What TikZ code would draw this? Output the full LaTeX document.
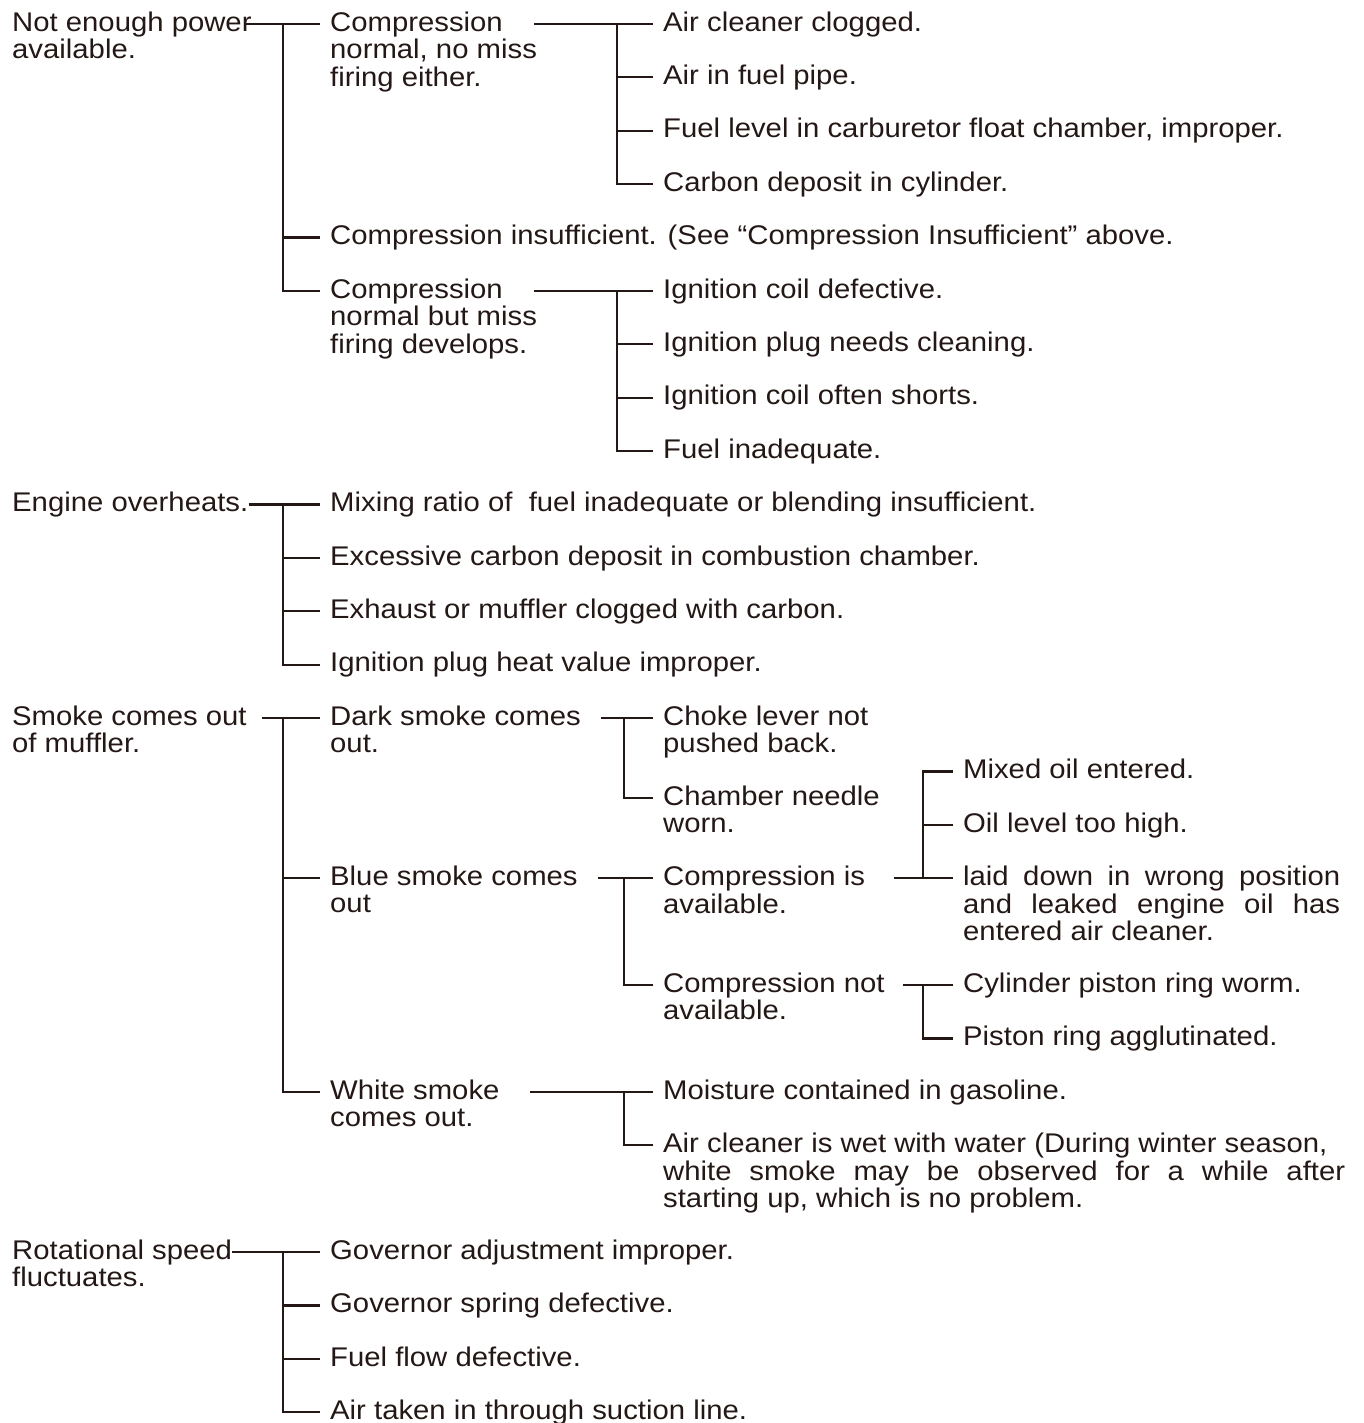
\documentclass[tikz,border=0pt]{standalone}
\usepackage{fontspec}
\setmainfont{Liberation Sans}[FakeStretch=1.085]
\usepackage{tikz}
\definecolor{ink}{RGB}{35,24,21}
\newcommand{\txtlines}[1]{\begin{tabular}[t]{@{}l@{}}#1\end{tabular}}

\begin{document}
\begin{tikzpicture}[
  x=1pt, y=-53.4pt,
  execute at begin picture={\fontsize{27}{27}\selectfont},
  txt/.style={anchor=mid west, inner xsep=10pt, inner ysep=0pt, text=ink, font=\fontsize{27}{27}\selectfont},
  tree/.style={draw=ink, line width=2.2pt}
]
\useasboundingbox (0,-0.4494) rectangle (1364,26.199);

% Not enough power
\node[txt] (pwr) at (2,0) {\txtlines{Not enough power\\available.}};
\node[txt] (cnok) at (320,0) {\txtlines{Compression\\normal, no miss\\firing either.}};
\node[txt] (cins) at (320,4) {Compression insufficient. (See “Compression Insufficient” above.};
\node[txt] (cmis) at (320,5) {\txtlines{Compression\\normal but miss\\firing develops.}};
\node[txt] (air1) at (653,0) {Air cleaner clogged.};
\node[txt] (air2) at (653,1) {Air in fuel pipe.};
\node[txt] (flvl) at (653,2) {Fuel level in carburetor float chamber, improper.};
\node[txt] (cdep) at (653,3) {Carbon deposit in cylinder.};
\node[txt] (ign1) at (653,5) {Ignition coil defective.};
\node[txt] (ign2) at (653,6) {Ignition plug needs cleaning.};
\node[txt] (ign3) at (653,7) {Ignition coil often shorts.};
\node[txt] (fuel) at (653,8) {Fuel inadequate.};

\coordinate (pwrJ) at (283,0);
\coordinate (cnokJ) at (617,0);
\coordinate (cmisJ) at (617,5);
\draw[tree] ([xshift=-17pt]pwr.mid east) -- (cnok.mid west);
\draw[tree] (pwrJ) |- (cmis.mid west);
\draw[tree] (pwrJ |- cins.mid west) -- (cins.mid west);
\draw[tree] ([xshift=-13pt]cnok.mid east) -- (air1.mid west);
\draw[tree] (cnokJ) |- (cdep.mid west);
\draw[tree] (cnokJ |- air2.mid west) -- (air2.mid west);
\draw[tree] (cnokJ |- flvl.mid west) -- (flvl.mid west);
\draw[tree] ([xshift=-13pt]cmis.mid east) -- (ign1.mid west);
\draw[tree] (cmisJ) |- (fuel.mid west);
\draw[tree] (cmisJ |- ign2.mid west) -- (ign2.mid west);
\draw[tree] (cmisJ |- ign3.mid west) -- (ign3.mid west);

% Engine overheats
\node[txt] (hot) at (2,9) {Engine overheats.};
\node[txt] (mix) at (320,9) {Mixing ratio of\ \ fuel inadequate or blending insufficient.};
\node[txt] (xcb) at (320,10) {Excessive carbon deposit in combustion chamber.};
\node[txt] (exh) at (320,11) {Exhaust or muffler clogged with carbon.};
\node[txt] (heat) at (320,12) {Ignition plug heat value improper.};

\coordinate (hotJ) at (283,9);
\draw[tree] ([xshift=-10pt]hot.mid east) -- (mix.mid west);
\draw[tree] (hotJ) |- (heat.mid west);
\draw[tree] (hotJ |- xcb.mid west) -- (xcb.mid west);
\draw[tree] (hotJ |- exh.mid west) -- (exh.mid west);

% Smoke comes out of muffler
\node[txt] (smk) at (2,13) {\txtlines{Smoke comes out\\of muffler.}};
\node[txt] (dark) at (320,13) {\txtlines{Dark smoke comes\\out.}};
\node[txt] (blue) at (320,16) {\txtlines{Blue smoke comes\\out}};
\node[txt] (white) at (320,20) {\txtlines{White smoke\\comes out.}};
\node[txt] (choke) at (653,13) {\txtlines{Choke lever not\\pushed back.}};
\node[txt] (ndl) at (653,14.5) {\txtlines{Chamber needle\\worn.}};
\node[txt] (cyes) at (653,16) {\txtlines{Compression is\\available.}};
\node[txt] (cno) at (653,18) {\txtlines{Compression not\\available.}};
\node[txt] (moist) at (653,20) {Moisture contained in gasoline.};
\node[txt] (wet) at (653,21) {\txtlines{Air cleaner is wet with water (During winter season,\\\makebox[682pt][s]{white smoke may be observed for a while after}\\starting up, which is no problem.}};
\node[txt] (moil) at (953,14) {Mixed oil entered.};
\node[txt] (olvl) at (953,15) {Oil level too high.};
\node[txt] (laid) at (953,16) {\txtlines{\makebox[377pt][s]{laid down in wrong position}\\\makebox[377pt][s]{and leaked engine oil has}\\entered air cleaner.}};
\node[txt] (ring1) at (953,18) {Cylinder piston ring worm.};
\node[txt] (ring2) at (953,19) {Piston ring agglutinated.};

\coordinate (smkJ) at (283,13);
\coordinate (darkJ) at (624,13);
\coordinate (blueJ) at (624,16);
\coordinate (whiteJ) at (624,20);
\coordinate (cyesJ) at (923,16);
\coordinate (cnoJ) at (923,18);
\draw[tree] ([xshift=5pt]smk.mid east) -- (dark.mid west);
\draw[tree] (smkJ) |- (white.mid west);
\draw[tree] (smkJ |- blue.mid west) -- (blue.mid west);
\draw[tree] ([xshift=10pt]dark.mid east) -- (choke.mid west);
\draw[tree] (darkJ) |- (ndl.mid west);
\draw[tree] ([xshift=10pt]blue.mid east) -- (cyes.mid west);
\draw[tree] (blueJ) |- (cno.mid west);
\draw[tree] ([xshift=20pt]white.mid east) -- (moist.mid west);
\draw[tree] (whiteJ) |- (wet.mid west);
\draw[tree] ([xshift=19pt]cyes.mid east) -- (laid.mid west);
\draw[tree] (cyesJ) |- (moil.mid west);
\draw[tree] (cyesJ |- olvl.mid west) -- (olvl.mid west);
\draw[tree] ([xshift=8pt]cno.mid east) -- (ring1.mid west);
\draw[tree] (cnoJ) |- (ring2.mid west);

% Rotational speed fluctuates
\node[txt] (rot) at (2,23) {\txtlines{Rotational speed\\fluctuates.}};
\node[txt] (gov1) at (320,23) {Governor adjustment improper.};
\node[txt] (gov2) at (320,24) {Governor spring defective.};
\node[txt] (flow) at (320,25) {Fuel flow defective.};
\node[txt] (suct) at (320,26) {Air taken in through suction line.};

\coordinate (rotJ) at (283,23);
\draw[tree] ([xshift=-10pt]rot.mid east) -- (gov1.mid west);
\draw[tree] (rotJ) |- (suct.mid west);
\draw[tree] (rotJ |- gov2.mid west) -- (gov2.mid west);
\draw[tree] (rotJ |- flow.mid west) -- (flow.mid west);

\end{tikzpicture}
\end{document}
